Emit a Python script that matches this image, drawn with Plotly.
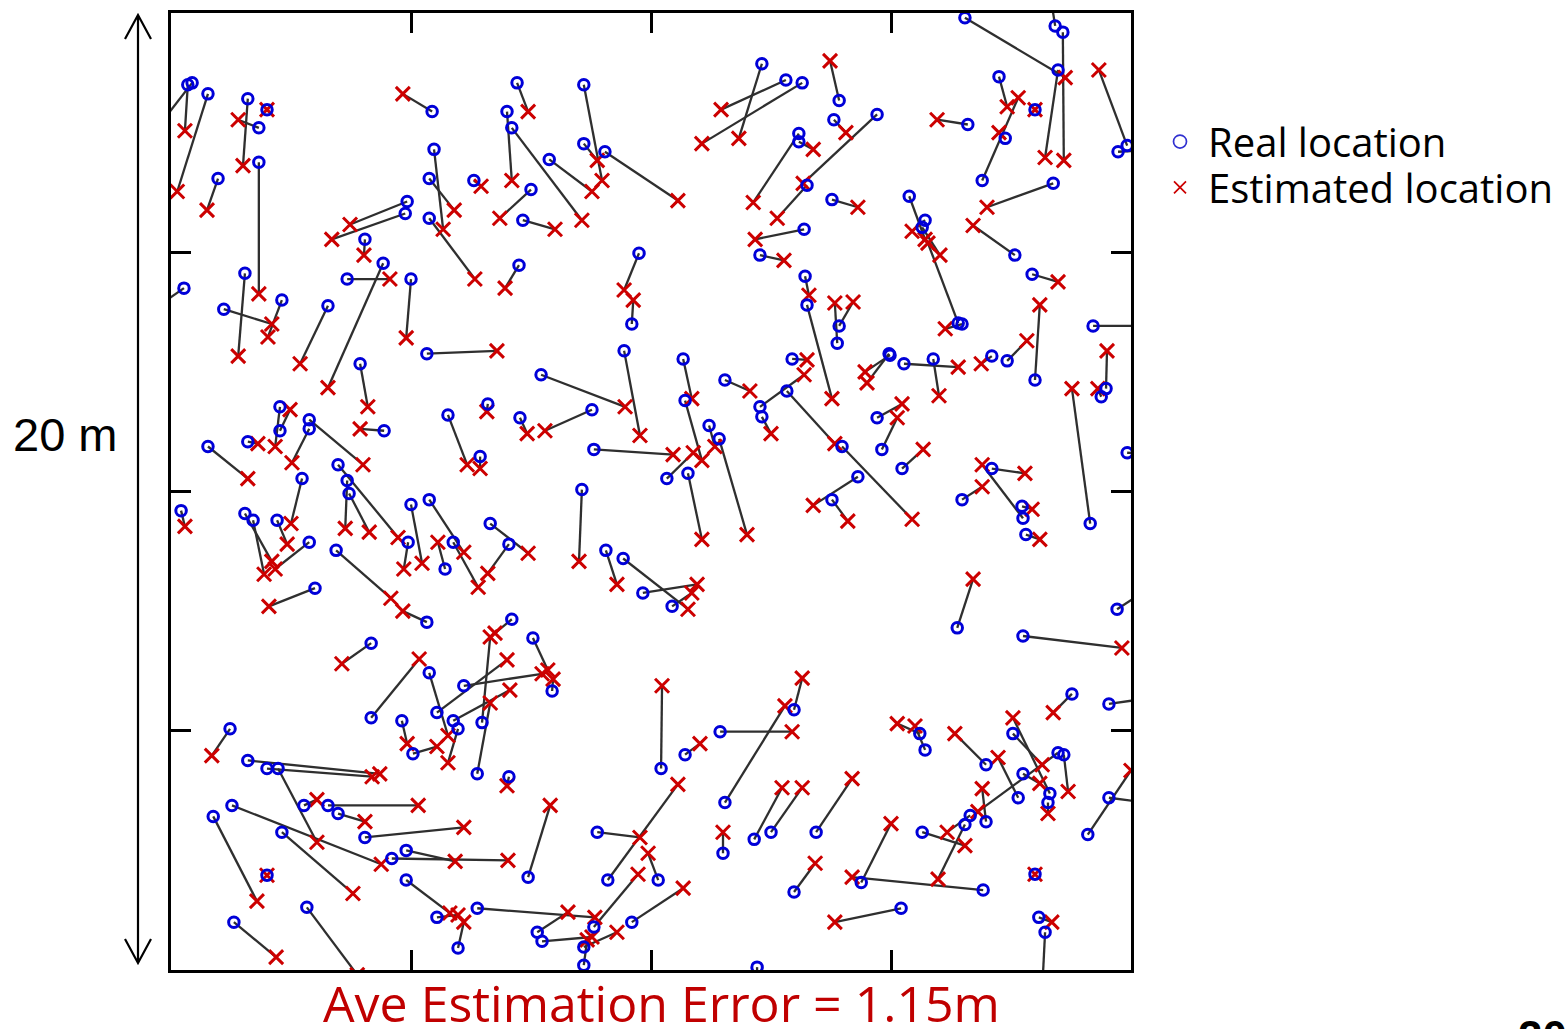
import plotly.graph_objects as go

# Sensor positions in metres on a 20 m x 20 m floor: true position and the estimate
real_x = [0.35, 0.44, 0.77, 1.60, 2.00, 1.83, 1.83, 0.98, 5.44, 5.48, 5.38, 6.31, 4.92, 4.88, 4.04, 5.38,
          0.27, 1.54, 4.42, 3.67, 5.00, 2.31, 1.10, 3.27, 7.21, 8.60, 7.00, 7.10, 8.60, 9.04, 7.88, 7.50,
          7.33, 7.25, 9.75, 9.60, 12.31, 12.81, 13.15, 13.08, 13.08, 13.25, 14.71, 13.19, 12.27, 13.21, 13.25,
          16.54, 18.42, 18.58, 18.48, 19.92, 19.73, 13.92, 13.81, 17.25, 16.90, 17.38, 18.00, 16.60, 18.38,
          13.77, 15.38, 15.71, 15.65, 16.48, 16.40, 17.58, 17.94, 18.00, 13.92, 13.88, 19.21,
          5.33, 3.94, 2.27, 2.27, 2.88, 2.88, 4.44, 1.60, 0.77, 3.48, 3.67, 3.71, 2.73, 0.21, 1.54, 1.71,
          2.21, 2.88, 5.00, 5.38, 5.88, 5.71, 4.94, 3.44, 5.33, 3.00, 5.77, 6.44, 6.60,
          9.44, 7.71, 10.67, 10.71, 10.33, 10.77, 11.42, 11.21, 11.54, 12.94, 12.27, 12.31, 12.83, 7.27, 8.77,
          8.81, 8.56, 6.65, 7.04, 9.06, 9.42, 9.83, 10.44, 7.10, 4.17, 7.54,
          14.98, 14.96, 15.27, 15.88, 17.10, 17.42, 19.48, 19.38, 19.15, 14.71, 14.81, 15.23, 13.98, 14.31,
          13.77, 17.10, 17.75, 17.73, 17.81, 16.48, 16.38, 19.92, 19.71, 17.75,
          4.17, 5.38, 4.81, 5.04, 5.98, 5.54, 5.88, 6.10, 6.48, 6.38, 1.23, 1.60, 2.00, 2.23, 2.77, 3.27,
          3.48, 1.27, 0.88, 2.31, 4.04, 4.90, 4.60, 2.00, 4.90, 5.54, 6.38, 5.98, 1.31, 2.83,
          7.94, 7.04, 7.44, 10.21, 10.71, 11.44, 12.98, 11.54, 9.10, 8.88, 10.15, 8.81, 9.60, 11.50, 12.15,
          12.50, 12.98, 7.63, 7.73, 8.60, 8.60, 12.21,
          18.77, 19.54, 15.60, 15.71, 16.98, 18.31, 17.54, 18.27, 18.48, 18.60, 17.65, 16.98, 17.75, 16.65,
          16.54, 15.65, 19.54, 19.10, 13.44, 14.38, 16.92, 15.21, 18.00, 18.08, 18.21]
real_y = [18.50, 18.54, 18.31, 18.21, 17.98, 17.60, 16.88, 16.54, 17.94, 17.15, 16.54, 16.50, 16.06, 15.81, 15.27, 15.71,
          14.25, 14.56, 14.77, 14.44, 14.44, 14.00, 13.81, 13.88, 18.54, 18.50, 17.94, 17.60, 17.27, 17.10, 16.94, 16.31,
          15.67, 14.73, 14.98, 13.50, 18.94, 18.60, 18.54, 17.48, 17.31, 16.40, 17.88, 15.48, 14.94, 14.50, 13.90,
          19.90, 19.73, 19.60, 18.81, 17.23, 17.10, 18.17, 17.77, 18.67, 16.50, 17.38, 17.98, 17.67, 16.44,
          16.10, 16.17, 15.67, 15.52, 13.50, 13.52, 14.94, 14.54, 12.33, 13.46, 13.10, 13.46,
          12.88, 12.67, 11.77, 11.27, 11.31, 11.50, 11.27, 11.04, 10.94, 10.56, 10.23, 9.96, 10.27, 9.60, 9.54, 9.40,
          9.40, 8.94, 9.73, 9.83, 8.94, 8.38, 8.94, 8.77, 7.27, 7.98, 11.60, 10.73, 11.83,
          12.94, 12.44, 12.77, 11.90, 10.27, 10.38, 11.10, 11.38, 12.33, 12.77, 11.77, 11.56, 12.10, 11.54, 11.71,
          10.88, 10.04, 9.33, 8.90, 8.77, 8.60, 7.88, 7.60, 7.33, 6.83, 6.94,
          12.85, 12.88, 12.67, 12.77, 12.83, 12.73, 12.15, 11.98, 9.33, 11.54, 10.88, 10.48, 10.94, 10.31,
          9.83, 10.48, 9.44, 9.69, 9.10, 9.83, 7.15, 10.81, 7.54, 6.98,
          5.27, 6.21, 5.21, 4.52, 5.04, 5.38, 5.21, 5.94, 5.17, 4.10, 5.04, 4.38, 4.21, 4.21, 3.44, 3.44,
          3.27, 3.44, 3.21, 2.88, 2.77, 2.50, 2.33, 1.98, 1.88, 1.10, 1.29, 0.46, 1.00, 1.31,
          5.83, 4.04, 1.94, 4.21, 4.50, 4.98, 5.44, 3.50, 1.88, 2.88, 1.88, 0.90, 1.00, 2.44, 2.73,
          2.88, 1.63, 0.79, 0.60, 0.48, 0.10, 0.06,
          5.77, 5.56, 4.94, 4.60, 4.29, 3.69, 4.94, 3.50, 4.54, 4.50, 3.60, 3.10, 4.10, 3.23,
          3.04, 2.88, 3.60, 2.83, 2.88, 1.83, 1.67, 1.29, 2.00, 1.10, 0.79]
est_x = [0.29, -0.23, 0.13, 1.50, 2.00, 1.40, 1.83, 0.75, 4.83, 5.67, 5.90, 6.46, 3.73, 3.35, 4.02, 6.33,
         -0.23, 1.40, 3.27, 4.56, 4.90, 2.02, 2.10, 2.69, 7.44, 8.98, 7.10, 8.56, 8.88, 10.56, 8.77, 6.85,
         8.00, 6.96, 9.44, 9.63, 11.83, 11.46, 11.06, 12.13, 13.38, 12.63, 13.17, 12.17, 12.77, 13.29, 13.77,
         18.63, 18.33, 18.60, 18.21, 19.33, 20.29, 13.73, 14.06, 17.42, 17.65, 17.25, 18.00, 15.96, 17.00,
         14.31, 15.71, 15.44, 16.02, 16.13, 15.77, 16.71, 18.48, 18.10, 14.21, 13.83, 20.29,
         6.79, 4.10, 2.17, 2.48, 2.52, 4.00, 3.94, 1.81, 1.60, 4.73, 3.63, 4.13, 2.50, 0.29, 2.10, 1.94,
         2.42, 2.17, 5.23, 6.10, 6.40, 5.56, 4.85, 4.58, 4.83, 2.04, 6.17, 6.44, 6.58,
         9.77, 9.46, 10.85, 11.06, 10.88, 11.06, 12.00, 11.33, 12.06, 13.25, 13.19, 12.50, 13.83, 7.42, 7.79,
         10.46, 8.50, 7.44, 6.60, 9.29, 10.77, 10.96, 10.85, 6.75, 3.56, 7.85,
         14.46, 14.50, 16.40, 16.00, 16.88, 17.83, 19.50, 19.31, 18.77, 15.23, 15.13, 15.67, 15.44, 13.38,
         14.10, 17.79, 16.90, 17.94, 18.10, 16.90, 16.71, 20.29, 20.29, 19.81,
         5.17, 5.77, 4.92, 5.54, 5.77, 7.00, 7.06, 7.73, 6.65, 6.65, 0.85, 4.35, 4.19, 3.04, 3.04, 5.15,
         4.04, 4.38, 1.79, 3.79, 6.10, 5.92, 7.02, 2.00, 5.81, 5.98, 8.83, 6.10, 2.19, 3.88,
         7.96, 7.00, 7.90, 10.23, 11.02, 12.94, 13.15, 12.79, 10.56, 9.77, 9.94, 9.73, 10.67, 11.50, 12.73,
         13.15, 13.42, 8.27, 8.77, 9.29, 8.67, 12.21,
         18.38, 20.29, 15.13, 15.50, 16.33, 17.54, 18.15, 18.27, 16.81, 18.69, 17.23, 16.90, 18.10, 16.17,
         15.98, 16.54, 20.29, 20.00, 14.19, 15.00, 14.19, 13.83, 18.00, 18.35, 18.15]
est_y = [17.54, 17.67, 16.27, 16.81, 17.98, 17.77, 14.13, 15.88, 18.31, 15.48, 15.88, 16.38, 15.58, 15.27, 14.94, 14.44,
         13.90, 12.83, 12.17, 14.44, 13.21, 13.23, 13.50, 12.67, 17.94, 16.50, 16.50, 15.67, 16.92, 16.08, 16.27, 15.71,
         15.48, 14.25, 14.21, 14.00, 17.38, 17.98, 17.27, 16.04, 17.15, 15.71, 16.44, 15.27, 14.83, 14.10, 11.94,
         18.65, 20.31, 16.92, 16.98, 18.81, 17.13, 19.00, 17.50, 18.04, 18.23, 17.50, 17.98, 17.77, 15.94,
         15.94, 15.27, 15.44, 14.94, 13.40, 15.19, 15.56, 14.38, 13.90, 13.96, 13.94, 13.46,
         12.94, 11.77, 10.94, 11.71, 10.60, 10.56, 11.31, 11.00, 10.27, 9.04, 9.23, 9.15, 9.33, 9.27, 8.54, 8.27,
         8.90, 8.38, 8.50, 8.73, 8.00, 8.94, 8.38, 7.77, 7.50, 7.60, 10.56, 10.48, 11.67,
         11.17, 11.77, 11.94, 10.65, 10.81, 9.00, 9.10, 10.94, 12.10, 12.75, 12.44, 11.21, 11.00, 11.21, 11.27,
         10.77, 8.54, 8.71, 8.29, 8.06, 7.54, 8.06, 7.88, 7.04, 6.40, 6.27,
         12.50, 12.27, 12.60, 12.00, 12.67, 13.15, 12.94, 12.15, 12.15, 11.83, 11.54, 10.88, 9.42, 9.71,
         9.38, 10.38, 10.56, 9.63, 9.00, 10.10, 8.17, 10.79, 7.92, 6.73,
         6.50, 4.90, 4.73, 4.67, 4.33, 6.48, 5.85, 6.19, 6.96, 5.58, 4.48, 4.10, 4.04, 2.67, 3.56, 3.44,
         3.10, 2.21, 1.44, 1.60, 2.98, 2.27, 2.29, 1.98, 1.19, 1.15, 1.10, 1.00, 0.27, -0.10,
         6.08, 3.85, 3.44, 5.94, 4.73, 4.98, 6.10, 5.52, 3.88, 2.77, 2.44, 2.00, 1.71, 2.88, 3.81,
         3.81, 2.23, 1.21, 0.69, 0.79, 0.63, -0.31,
         5.38, 5.67, 5.15, 5.10, 4.94, 5.27, 4.29, 3.27, 3.31, 3.73, 4.44, 3.79, 3.90, 2.88,
         1.90, 2.60, 3.50, 4.17, 4.00, 3.06, 1.94, 1.00, 2.00, 1.00, -0.42]

title_text = "Ave Estimation Error = 1.15m"
side_label = "20 m"
legend_labels = ["Real location", "Estimated location"]

# error segments: one line per sensor, separated by gaps
seg_x, seg_y = [], []
for rx, ry, ex, ey in zip(real_x, real_y, est_x, est_y):
    seg_x += [rx, ex, None]
    seg_y += [ry, ey, None]

BLUE = "#0000d8"
RED = "#cc0000"

fig = go.Figure()
fig.add_trace(go.Scatter(x=seg_x, y=seg_y, mode="lines",
                         line=dict(color="#2f2f2f", width=2.3),
                         showlegend=False, hoverinfo="skip"))
fig.add_trace(go.Scatter(x=est_x, y=est_y, mode="markers", showlegend=False,
                         name=legend_labels[1],
                         marker=dict(symbol="x-thin-open", size=14, color=RED,
                                     line=dict(color=RED, width=3))))
fig.add_trace(go.Scatter(x=real_x, y=real_y, mode="markers", showlegend=False,
                         name=legend_labels[0],
                         marker=dict(symbol="circle-open", size=10.5, color=BLUE,
                                     line=dict(color=BLUE, width=3))))

axis_style = dict(range=[0, 20], tickvals=[5, 10, 15], ticks="inside", ticklen=20,
                  tickwidth=2.5, tickcolor="black", showticklabels=False,
                  showgrid=False, zeroline=False, showline=True, linewidth=3,
                  linecolor="black", mirror="ticks", fixedrange=True)

W, H = 1567, 1029
L, R, T, B = 171, 436, 10, 59
plot_w = W - L - R
plot_h = H - T - B


def px_x(p):
    return (p - L) / plot_w


def px_y(p):
    return (H - B - p) / plot_h


# double-headed dimension arrow on the left
ax = px_x(138)
top, bot = px_y(12), px_y(963)
hw, hh = 13 / plot_w, 24 / plot_h
arrow_path = (f"M {ax} {bot} L {ax} {top} "
              f"M {ax - hw} {top - hh} L {ax} {top} L {ax + hw} {top - hh} "
              f"M {ax - hw} {bot + hh} L {ax} {bot} L {ax + hw} {bot + hh}")

# legend glyphs drawn beside the plot
cx, cy1, cy2, r = 1180, 139, 185, 6.5
legend_circle = dict(type="circle", xref="paper", yref="paper",
                     x0=px_x(cx - r), x1=px_x(cx + r), y0=px_y(cy1 + r), y1=px_y(cy1 - r),
                     line=dict(color="#3030d0", width=1.7))
xcross_path = (f"M {px_x(cx - 6)} {px_y(cy2 - 6)} L {px_x(cx + 6)} {px_y(cy2 + 6)} "
               f"M {px_x(cx - 6)} {px_y(cy2 + 6)} L {px_x(cx + 6)} {px_y(cy2 - 6)}")
legend_cross = dict(type="path", xref="paper", yref="paper", path=xcross_path,
                    line=dict(color=RED, width=1.7))

fig.update_layout(
    width=W, height=H,
    margin=dict(l=L, r=R, t=T, b=B),
    paper_bgcolor="white", plot_bgcolor="white",
    xaxis=axis_style, yaxis=axis_style,
    showlegend=False,
    shapes=[dict(type="path", xref="paper", yref="paper", path=arrow_path,
                 line=dict(color="black", width=2.2)),
            legend_circle, legend_cross],
    annotations=[
        dict(text=side_label, xref="paper", yref="paper", x=px_x(65), y=px_y(433),
             xanchor="center", yanchor="middle", showarrow=False,
             font=dict(family="Liberation Sans", size=47, color="black")),
        dict(text=title_text, xref="paper", yref="paper", x=px_x(661), y=px_y(1003),
             xanchor="center", yanchor="middle", showarrow=False,
             font=dict(family="Open Sans", size=50, color="#c00000")),
        dict(text=legend_labels[0], xref="paper", yref="paper", x=px_x(1206), y=px_y(cy1),
             xanchor="left", yanchor="middle", showarrow=False,
             font=dict(family="Open Sans", size=40, color="black")),
        dict(text=legend_labels[1], xref="paper", yref="paper", x=px_x(1206), y=px_y(cy2),
             xanchor="left", yanchor="middle", showarrow=False,
             font=dict(family="Open Sans", size=40, color="black")),
        dict(text="<b>20</b>", xref="paper", yref="paper", x=px_x(1516), y=px_y(1010),
             xanchor="left", yanchor="top", showarrow=False,
             font=dict(family="Liberation Sans", size=44, color="black")),
    ],
)

fig.write_html("out.html")
